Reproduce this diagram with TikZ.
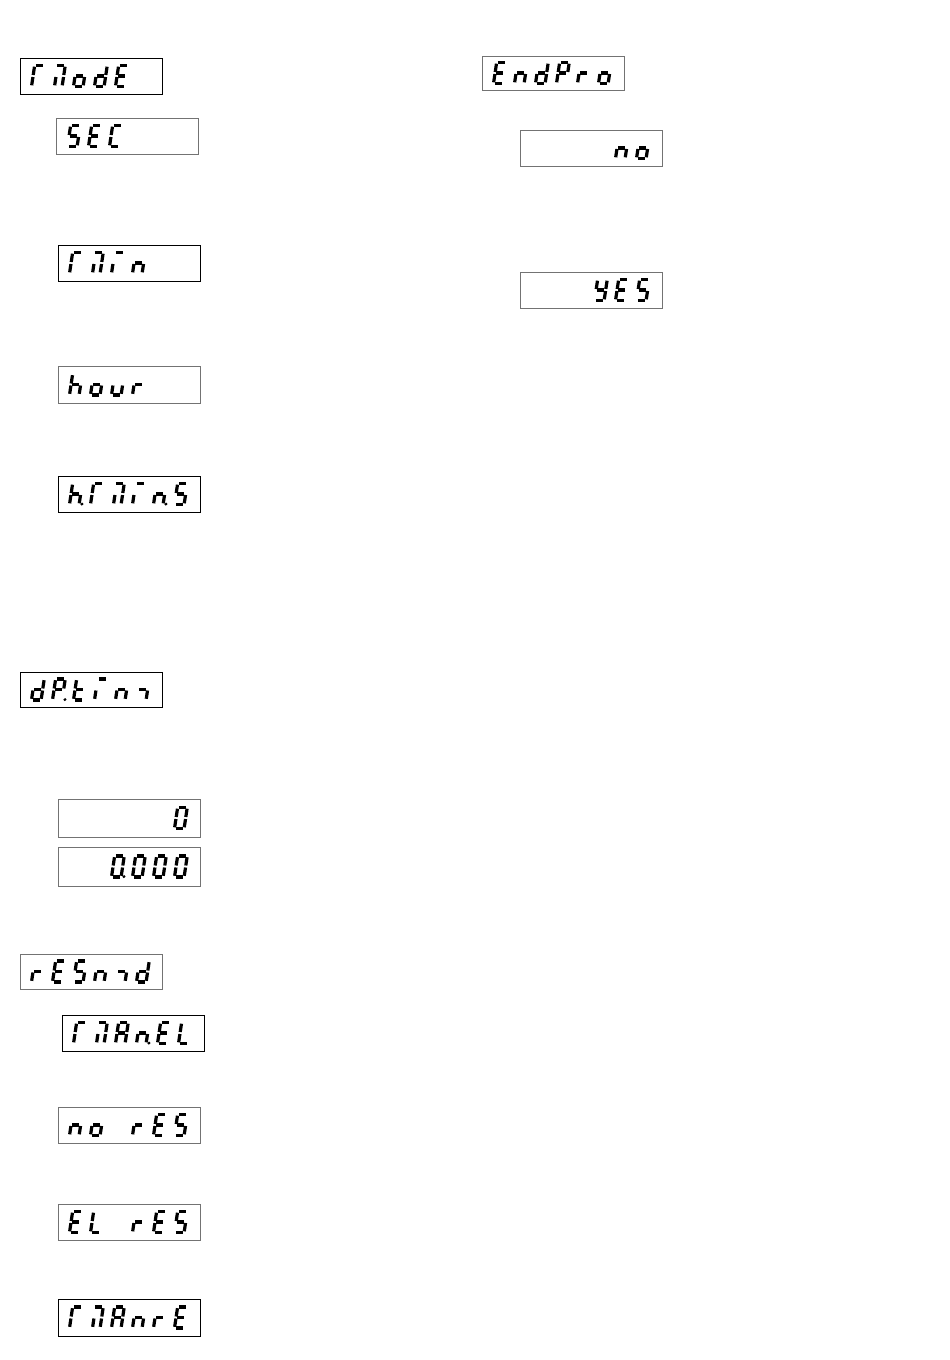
\documentclass[tikz,border=0pt]{standalone}
\usepackage{tikz}
\tikzset{>=latex,
  lcd/.style={draw, line width=1pt, minimum width=142pt, minimum height=36pt, inner sep=0pt},
  lcdlight/.style={lcd, draw=black!55},
  seg/.style={line width=3.2pt, line cap=butt}}
% segments of one display cell, 9 wide, 21 high
\newcommand{\sega}{\draw[seg] (1.3,21) -- (8.3,21);}
\newcommand{\segb}{\draw[seg] (9.6,19.8) -- (9.6,11.5);}
\newcommand{\segc}{\draw[seg] (9.6,9.5) -- (9.6,1.2);}
\newcommand{\segd}{\draw[seg] (1.3,0) -- (8.3,0);}
\newcommand{\sege}{\draw[seg] (0,1.2) -- (0,9.5);}
\newcommand{\segf}{\draw[seg] (0,11.5) -- (0,19.8);}
\newcommand{\segg}{\draw[seg] (1.3,10.5) -- (8.3,10.5);}
\newcommand{\segm}{\draw[seg] (2,1.2) -- (2,9.5);}
\newcommand{\segp}{\fill (12.4,0.4) circle (1.6);}
\newcommand{\segx}{}
\newcommand{\lcdcells}[2]{%
  \foreach \c [count=\i] in {#2} {
    \begin{scope}[shift={(#1.west)}, shift={({12+21*(\i-1)},10.5)}, xslant=0.15, yscale=-1]
      \foreach \s in \c {\csname seg\s\endcsname}
    \end{scope}}}

\begin{document}
\begin{tikzpicture}[x=1pt,y=-1pt]
  \useasboundingbox (0,0) rectangle (950,1360);
  % left column
  \node[lcd] (mode) at (91,76) {};
  \node[lcdlight] (sec) at (127,136) {};
  \node[lcd] (min) at (129,263) {};
  \node[lcdlight, minimum height=37pt] (hour) at (129,384.5) {};
  \node[lcd] (hmins) at (129,494) {};
  \node[lcd, minimum height=35pt] (dptim) at (91,689.5) {};
  \node[lcdlight, minimum height=38pt] (zero) at (129,818) {};
  \node[lcdlight, minimum height=39pt] (zerofrac) at (129,866.5) {};
  \node[lcdlight, minimum height=35pt] (resmd) at (91,971.5) {};
  \node[lcd] (manel) at (133,1033) {};
  \node[lcdlight] (nores) at (129,1125) {};
  \node[lcdlight] (elres) at (129,1222) {};
  \node[lcd, minimum height=37pt] (manre) at (129,1317.5) {};
  % right column
  \node[lcdlight, minimum height=34pt] (endpro) at (553,73) {};
  \node[lcdlight] (no) at (591,148) {};
  \node[lcdlight] (yes) at (591,290) {};

  \lcdcells{mode}{{a,e,f},{a,b,c,m},{c,d,e,g},{b,c,d,e,g},{a,d,e,f,g}}
  \lcdcells{sec}{{a,c,d,f,g},{a,d,e,f,g},{a,d,e,f}}
  \lcdcells{min}{{a,e,f},{a,b,c,m},{a,e},{c,e,g}}
  \lcdcells{hour}{{c,e,f,g},{c,d,e,g},{c,d,e},{e,g}}
  \lcdcells{hmins}{{c,e,f,g,p},{a,e,f},{a,b,c,m},{a,e},{c,e,g,p},{a,c,d,f,g}}
  \lcdcells{dptim}{{b,c,d,e,g},{a,b,e,f,g,p},{d,e,f,g},{a,e},{c,e,g},{c,g}}
  \lcdcells{zero}{x,x,x,x,x,{a,b,c,d,e,f}}
  \lcdcells{zerofrac}{x,x,{a,b,c,d,e,f,p},{a,b,c,d,e,f},{a,b,c,d,e,f},{a,b,c,d,e,f}}
  \lcdcells{resmd}{{e,g},{a,d,e,f,g},{a,c,d,f,g},{c,e,g},{c,g},{b,c,d,e,g}}
  \lcdcells{manel}{{a,e,f},{a,b,c,m},{a,b,c,e,f,g},{c,e,g,p},{a,d,e,f,g},{d,e,f}}
  \lcdcells{nores}{{c,e,g},{c,d,e,g},x,{e,g},{a,d,e,f,g},{a,c,d,f,g}}
  \lcdcells{elres}{{a,d,e,f,g},{d,e,f},x,{e,g},{a,d,e,f,g},{a,c,d,f,g}}
  \lcdcells{manre}{{a,e,f},{a,b,c,m},{a,b,c,e,f,g},{c,e,g},{e,g},{a,d,e,f,g}}
  \lcdcells{endpro}{{a,d,e,f,g},{c,e,g},{b,c,d,e,g},{a,b,e,f,g},{e,g},{c,d,e,g}}
  \lcdcells{no}{x,x,x,x,{c,e,g},{c,d,e,g}}
  \lcdcells{yes}{x,x,x,{b,c,d,f,g},{a,d,e,f,g},{a,c,d,f,g}}
\end{tikzpicture}
\end{document}
